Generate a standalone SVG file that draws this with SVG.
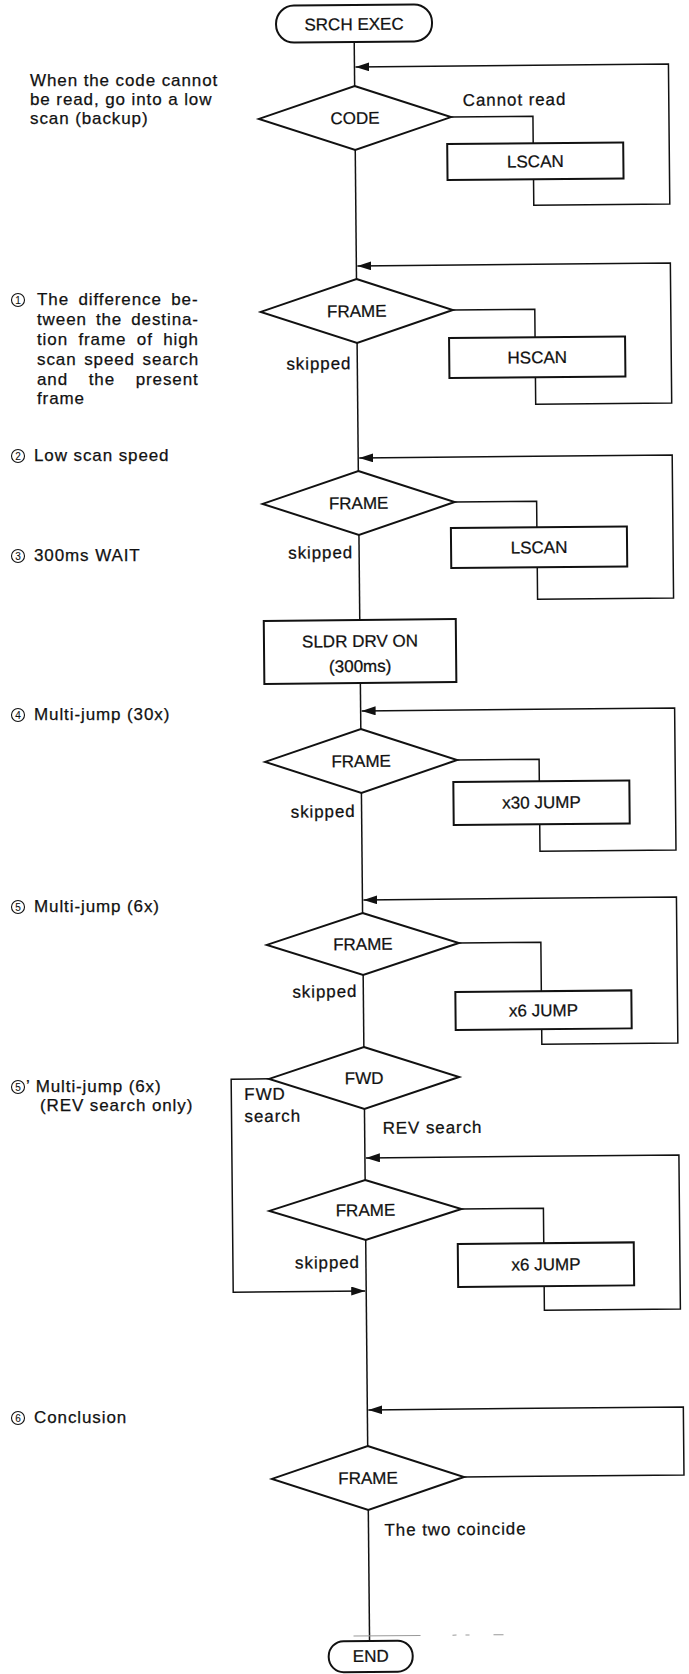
<svg xmlns="http://www.w3.org/2000/svg" width="689" height="1674" viewBox="0 0 689 1674">
<style>
text{font-family:"Liberation Sans",Arial,sans-serif;font-size:17px;fill:#111;stroke:#111;stroke-width:0.25}
.c{text-anchor:middle}
.e{text-anchor:end}
.sp{letter-spacing:0.9px}
.shape{fill:#fff;stroke:#111;stroke-width:2}
.line{fill:none;stroke:#111;stroke-width:1.5}
.num{font-size:10px;text-anchor:middle;stroke-width:0.1}
.ring{fill:none;stroke:#111;stroke-width:1.1}
.speck{fill:none;stroke:#999;stroke-width:1}
</style>
<defs>
<marker id="arr" markerUnits="userSpaceOnUse" markerWidth="16" markerHeight="10" refX="14" refY="4.5" orient="auto">
<path d="M0,0 L14,4.5 L0,9 z" fill="#111"/>
</marker>
</defs>
<rect width="689" height="1674" fill="#fff"/>

<g id="notes">
<text class="sp" x="30" y="86">When the code cannot</text>
<text class="sp" x="30" y="105">be read, go into a low</text>
<text class="sp" x="30" y="124">scan (backup)</text>

<circle class="ring" cx="18" cy="300" r="6.5"/><text class="num" x="18" y="303.5">1</text>
<text class="sp" x="37" y="305" word-spacing="3.8">The difference be-</text>
<text class="sp" x="37" y="325" word-spacing="3.4">tween the destina-</text>
<text class="sp" x="37" y="345" word-spacing="4.8">tion frame of high</text>
<text class="sp" x="37" y="365" word-spacing="2">scan speed search</text>
<text class="sp" x="37" y="385" word-spacing="15">and the present</text>
<text class="sp" x="37" y="404">frame</text>

<circle class="ring" cx="18" cy="456" r="6.5"/><text class="num" x="18" y="459.5">2</text>
<text class="sp" x="34" y="461">Low scan speed</text>

<circle class="ring" cx="18" cy="556" r="6.5"/><text class="num" x="18" y="559.5">3</text>
<text class="sp" x="34" y="561">300ms WAIT</text>

<circle class="ring" cx="18" cy="715" r="6.5"/><text class="num" x="18" y="718.5">4</text>
<text class="sp" x="34" y="720">Multi-jump (30x)</text>

<circle class="ring" cx="18" cy="907" r="6.5"/><text class="num" x="18" y="910.5">5</text>
<text class="sp" x="34" y="912">Multi-jump (6x)</text>

<circle class="ring" cx="18" cy="1087" r="6.5"/><text class="num" x="18" y="1090.5">5</text>
<text class="sp" x="26" y="1092">’ Multi-jump (6x)</text>
<text class="sp" x="40" y="1111">(REV search only)</text>

<circle class="ring" cx="18" cy="1418" r="6.5"/><text class="num" x="18" y="1421.5">6</text>
<text class="sp" x="34" y="1423">Conclusion</text>
</g>

<g transform="rotate(-0.55 354 20)">
<g id="connectors">
<path class="line" d="M354,42 V86"/>
<path class="line" d="M354,150 V279"/>
<path class="line" d="M354,343 V471"/>
<path class="line" d="M354,535 V620"/>
<path class="line" d="M354,683 V729"/>
<path class="line" d="M354,793 V913"/>
<path class="line" d="M354,975 V1047"/>
<path class="line" d="M354,1109 V1180"/>
<path class="line" d="M354,1240 V1446"/>
<path class="line" d="M354,1510 V1641"/>

<path class="line" d="M450,118 H532 V145"/>
<path class="line" d="M450,311 H532 V339"/>
<path class="line" d="M450,503 H532 V529"/>
<path class="line" d="M450,761 H532 V783"/>
<path class="line" d="M450,944 H532 V993"/>
<path class="line" d="M450,1210 H532 V1245"/>

<path class="line" marker-end="url(#arr)" d="M532,181 V207 H668 V67 H355"/>
<path class="line" marker-end="url(#arr)" d="M532,379 V406 H668 V266 H355"/>
<path class="line" marker-end="url(#arr)" d="M532,569 V601 H668 V458 H355"/>
<path class="line" marker-end="url(#arr)" d="M532,826 V853 H668 V711 H355"/>
<path class="line" marker-end="url(#arr)" d="M532,1031 V1046 H668 V900 H355"/>
<path class="line" marker-end="url(#arr)" d="M532,1288 V1312 H668 V1158 H355"/>
<path class="line" marker-end="url(#arr)" d="M450,1478 H670 V1410 H355"/>
<path class="line" marker-end="url(#arr)" d="M259,1078 H221 V1291 H353"/>

<text class="sp" x="462" y="107">Cannot read</text>
<text class="sp e" x="348" y="369">skipped</text>
<text class="sp e" x="348" y="558">skipped</text>
<text class="sp e" x="348" y="817">skipped</text>
<text class="sp e" x="348" y="997">skipped</text>
<text class="sp e" x="348" y="1268">skipped</text>
<text class="sp" x="234" y="1099">FWD</text>
<text class="sp" x="234" y="1121">search</text>
<text class="sp" x="372" y="1134">REV search</text>
<text class="sp" x="370" y="1536">The two coincide</text>

<path class="speck" d="M338,1636 H405 M437,1636 H441 M450,1636 H454 M478,1636 H488"/>
</g>

<g id="n_start"><rect class="shape" x="276" y="5" width="156" height="37" rx="18"/><text class="c" x="354" y="30">SRCH EXEC</text></g>
<g id="n_code"><polygon class="shape" points="354,86 450,118 354,150 258,118"/><text class="c" x="354" y="124">CODE</text></g>
<g id="n_lscan1"><rect class="shape" x="446" y="145" width="176" height="36"/><text class="c" x="534" y="169">LSCAN</text></g>

<g id="n_frame1"><polygon class="shape" points="354,279 450,311 354,343 258,311"/><text class="c" x="354" y="317">FRAME</text></g>
<g id="n_hscan"><rect class="shape" x="446" y="339" width="176" height="40"/><text class="c" x="534" y="365">HSCAN</text></g>

<g id="n_frame2"><polygon class="shape" points="354,471 450,503 354,535 258,503"/><text class="c" x="354" y="509">FRAME</text></g>
<g id="n_lscan2"><rect class="shape" x="446" y="529" width="176" height="40"/><text class="c" x="534" y="555">LSCAN</text></g>

<g id="n_sldr"><rect class="shape" x="258" y="620" width="192" height="63"/><text class="c" x="354" y="647">SLDR DRV ON</text><text class="c" x="354" y="672">(300ms)</text></g>

<g id="n_frame3"><polygon class="shape" points="354,729 450,761 354,793 258,761"/><text class="c" x="354" y="767">FRAME</text></g>
<g id="n_x30"><rect class="shape" x="446" y="783" width="176" height="43"/><text class="c" x="534" y="810">x30 JUMP</text></g>

<g id="n_frame4"><polygon class="shape" points="354,913 450,944 354,975 258,944"/><text class="c" x="354" y="950">FRAME</text></g>
<g id="n_x6a"><rect class="shape" x="446" y="993" width="176" height="38"/><text class="c" x="534" y="1018">x6 JUMP</text></g>

<g id="n_fwd"><polygon class="shape" points="354,1047 449,1078 354,1109 259,1078"/><text class="c" x="354" y="1084">FWD</text></g>

<g id="n_frame5"><polygon class="shape" points="354,1180 450,1210 354,1240 258,1210"/><text class="c" x="354" y="1216">FRAME</text></g>
<g id="n_x6b"><rect class="shape" x="446" y="1245" width="176" height="43"/><text class="c" x="534" y="1272">x6 JUMP</text></g>

<g id="n_frame6"><polygon class="shape" points="354,1446 450,1478 354,1510 258,1478"/><text class="c" x="354" y="1484">FRAME</text></g>

<g id="n_end"><rect class="shape" x="313" y="1641" width="84" height="31" rx="15"/><text class="c" x="355" y="1662">END</text></g>
</g>
</svg>
